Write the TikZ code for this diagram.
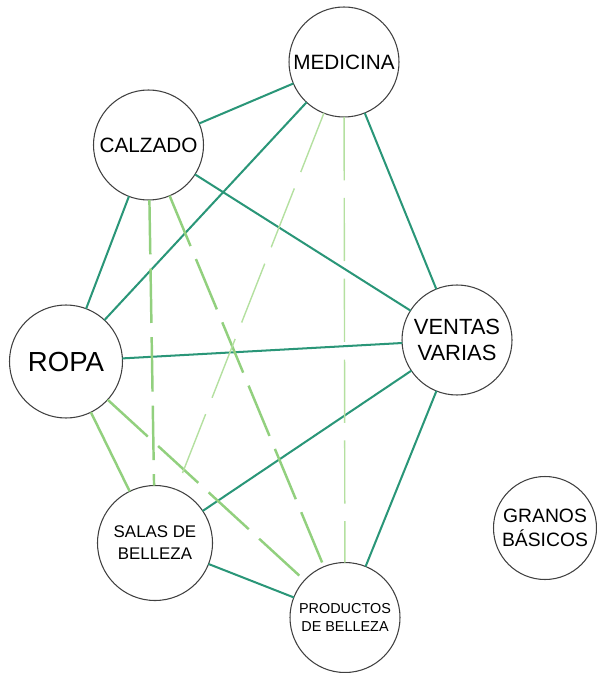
\documentclass[tikz,border=0pt]{standalone}
\usepackage{fontspec}
\setmainfont{Liberation Sans}
\usepackage{tkz-graph}

\definecolor{verdeosc}{RGB}{42,150,120}
\definecolor{verdecla}{RGB}{146,208,126}
\definecolor{verdepal}{RGB}{180,224,160}

\tikzset{circulo/.style = {shape = circle, draw = black!75, line width = 0.6pt, fill = white, align = center, inner sep = 0pt}}

\begin{document}
\begin{tikzpicture}
\useasboundingbox (0,0) rectangle (11.92,-13.46);
   \tikzset{VertexStyle/.style = {circulo, minimum size = 2.2cm, font = \fontsize{11.8}{14}\selectfont}}
   \Vertex[x=6.88 ,y=-1.24, L=MEDICINA]{MED}
   \Vertex[x=2.97 ,y=-2.90, L=CALZADO]{CAL}
\tikzset{VertexStyle/.style = {circulo, minimum size = 2.2cm, font = \fontsize{12.5}{15}\selectfont}}
   \Vertex[x=9.14 ,y=-6.80, L={VENTAS\\VARIAS}]{VEN}
\tikzset{VertexStyle/.style = {circulo, minimum size = 2.2cm, font = \fontsize{8.2}{10.5}\selectfont}}
   \Vertex[x=6.90 ,y=-12.35, L={PRODUCTOS\\DE BELLEZA}]{PRO}
\tikzset{VertexStyle/.style = {circulo, minimum size = 2.26cm, font = \fontsize{15.7}{18}\selectfont}}
   \Vertex[x=1.32 ,y=-7.23, L=ROPA]{ROP}
\tikzset{VertexStyle/.style = {circulo, minimum size = 2.3cm, font = \fontsize{9.6}{12.5}\selectfont}}
   \Vertex[x=3.10 ,y=-10.86, L={SALAS DE\\BELLEZA}]{SAL}
\tikzset{VertexStyle/.style = {circulo, minimum size = 2.06cm, font = \fontsize{11}{14}\selectfont}}
   \Vertex[x=10.90 ,y=-10.56, L={GRANOS\\BÁSICOS}]{GRA}

\tikzset{EdgeStyle/.style = {draw = verdeosc, line width = 1.15pt}}
   \Edge(CAL)(MED)
   \Edge(CAL)(ROP)
   \Edge(CAL)(VEN)
   \Edge(MED)(ROP)
   \Edge(MED)(VEN)
   \Edge(ROP)(VEN)
   \Edge(VEN)(SAL)
   \Edge(VEN)(PRO)
   \Edge(SAL)(PRO)
\tikzset{EdgeStyle/.style = {draw = verdecla, line width = 1.4pt}}
   \Edge(ROP)(SAL)
\tikzset{EdgeStyle/.style = {draw = verdecla, line width = 1.4pt, dash pattern = on 31pt off 8pt}}
   \Edge(CAL)(SAL)
   \Edge(CAL)(PRO)
   \Edge(ROP)(PRO)
\tikzset{EdgeStyle/.style = {draw = verdepal, line width = 0.8pt, dash pattern = on 36pt off 10pt}}
   \Edge(MED)(SAL)
   \Edge(MED)(PRO)

\end{tikzpicture}
\end{document}
